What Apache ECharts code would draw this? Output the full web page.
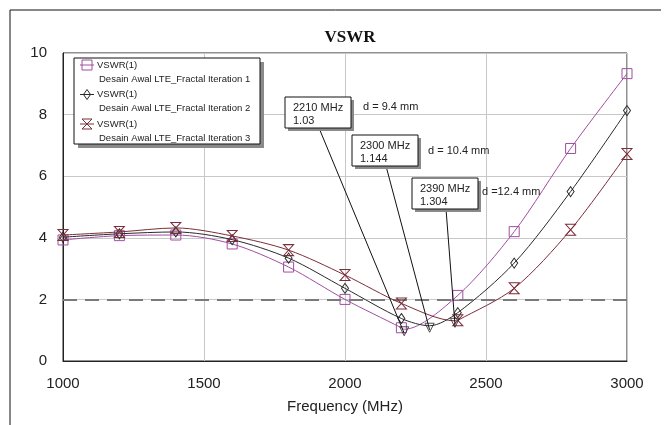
<!DOCTYPE html>
<html>
<head>
<meta charset="utf-8">
<script src="https://cdn.jsdelivr.net/npm/echarts@6/dist/echarts.min.js"></script>
<style>
html, body { margin: 0; padding: 0; background: #fff; }
#vswr { width: 670px; height: 425px; }
</style>
</head>
<body>
<div id="vswr"></div>
<script>
// frequency sweep points that carry a marker symbol (MHz)
var freqs = [1000, 1200, 1400, 1600, 1800, 2000, 2200, 2400, 2600, 2800, 3000];
// VSWR, one array per iteration
var iter1 = [3.93, 4.07, 4.09, 3.80, 3.05, 2.00, 1.08, 2.13, 4.20, 6.90, 9.33];
var iter2 = [4.02, 4.13, 4.19, 3.94, 3.34, 2.36, 1.38, 1.57, 3.18, 5.50, 8.13];
var iter3 = [4.09, 4.19, 4.32, 4.06, 3.60, 2.79, 1.87, 1.32, 2.36, 4.26, 6.72];
// resonance markers
var markFreqs = [2210, 2300, 2390];
var markVals = [1.03, 1.144, 1.304];
var markDist = ['d = 9.4 mm', 'd = 10.4 mm', 'd =12.4 mm'];
var seriesNames = ['Desain Awal LTE_Fractal Iteration 1', 'Desain Awal LTE_Fractal Iteration 2', 'Desain Awal LTE_Fractal Iteration 3'];
var vswrLimit = 2;

var colors = ['#a04ea0', '#2a2a2a', '#7c2d3a'];
var FONT = 'Liberation Sans, Arial, sans-serif';

function build(vals, dipF, dipV){
    var out = [];
    var done = false;
    for (var i = 0; i < freqs.length; i++) {
        if (!done && dipF < freqs[i]) {
            out.push({value: [dipF, dipV], symbol: 'none'});
            done = true;
        }
        out.push([freqs[i], vals[i]]);
    }
    return out;
}

function lineSeries(idx, vals, symbol, size){
    return {
        type: 'line',
        name: seriesNames[idx],
        data: build(vals, markFreqs[idx], markVals[idx]),
        smooth: 0.3,
        symbol: symbol,
        symbolSize: size,
        showSymbol: true,
        lineStyle: {color: colors[idx], width: 1},
        itemStyle: {color: 'rgba(0,0,0,0)', borderColor: colors[idx], borderWidth: 1},
        z: 3 + idx
    };
}

// annotation box placement (pixels)
var boxPos = [[285, 97], [352, 135], [412, 178]];
var boxW = 66, boxH = 31;
var distPos = [[363, 107], [428, 151], [482, 192]];

var chart = echarts.init(document.getElementById('vswr'));

var s1 = lineSeries(0, iter1, 'rect', 10);
s1.markLine = {
    silent: true,
    symbol: 'none',
    label: {show: false},
    lineStyle: {color: '#7a7a7a', width: 2, type: [14, 8]},
    data: [{yAxis: vswrLimit}]
};

var option = {
    backgroundColor: '#fff',
    animation: false,
    title: {
        text: 'VSWR',
        left: 345,
        textAlign: 'center',
        top: 24,
        textStyle: {fontFamily: 'Liberation Serif, Times New Roman, serif', fontWeight: 'bold', fontSize: 17, color: '#111'}
    },
    grid: {
        left: 63, right: 43, top: 53, bottom: 64,
        show: true, borderColor: '#222', borderWidth: 1, backgroundColor: '#fff'
    },
    xAxis: {
        type: 'value',
        min: 1000, max: 3000, interval: 500,
        name: 'Frequency (MHz)',
        nameLocation: 'middle',
        nameGap: 38,
        nameTextStyle: {fontFamily: FONT, fontSize: 15, color: '#222'},
        axisLine: {show: true, lineStyle: {color: '#222'}},
        axisTick: {show: false},
        axisLabel: {fontFamily: FONT, fontSize: 15, color: '#222', margin: 15, showMinLabel: true, showMaxLabel: true,
            formatter: function(v){ return String(v); }},
        splitLine: {show: true, lineStyle: {color: '#c8c8c8', width: 1}}
    },
    yAxis: {
        type: 'value',
        min: 0, max: 10, interval: 2,
        axisLine: {show: true, lineStyle: {color: '#222'}},
        axisTick: {show: false},
        axisLabel: {fontFamily: FONT, fontSize: 15, color: '#222', margin: 16},
        splitLine: {show: true, lineStyle: {color: '#c8c8c8', width: 1}}
    },
    series: [
        s1,
        lineSeries(1, iter2, 'diamond', [7, 10]),
        lineSeries(2, iter3, 'path://M0,0L10,0L0,10L10,10Z', [10, 11]),
        {
            type: 'scatter',
            data: markFreqs.map(function(f, i){ return [f, markVals[i]]; }),
            symbol: 'triangle',
            symbolRotate: 180,
            symbolSize: [9, 9],
            symbolOffset: [0, 2],
            itemStyle: {color: 'rgba(0,0,0,0)', borderColor: '#222', borderWidth: 1},
            z: 10
        }
    ]
};
chart.setOption(option);

// legend, frame and marker call-outs
var legendIcons = [
    function(cx, cy){ return {type: 'rect', shape: {x: cx - 5, y: cy - 5, width: 10, height: 10}, style: {fill: 'none', stroke: colors[0], lineWidth: 1}}; },
    function(cx, cy){ return {type: 'polygon', shape: {points: [[cx, cy - 5], [cx + 3.5, cy], [cx, cy + 5], [cx - 3.5, cy]]}, style: {fill: 'none', stroke: colors[1], lineWidth: 1}}; },
    function(cx, cy){ return {type: 'polygon', shape: {points: [[cx - 5, cy - 5], [cx + 5, cy - 5], [cx - 5, cy + 5], [cx + 5, cy + 5]]}, style: {fill: 'none', stroke: colors[2], lineWidth: 1}}; }
];
var legendItems = [];
legendItems.push({type: 'rect', shape: {x: 78, y: 62, width: 186, height: 86}, style: {fill: '#8a8a8a'}});
legendItems.push({type: 'rect', shape: {x: 74, y: 58, width: 186, height: 86}, style: {fill: '#fff', stroke: '#111', lineWidth: 1}});
for (var k = 0; k < 3; k++) {
    var cy = 65 + k * 29.5;
    legendItems.push({type: 'line', shape: {x1: 80, y1: cy, x2: 94, y2: cy}, style: {stroke: colors[k], lineWidth: 1}});
    legendItems.push(legendIcons[k](87, cy));
    legendItems.push({type: 'text', x: 97, y: cy, style: {text: 'VSWR(1)', font: '9.5px ' + FONT, fill: '#222', verticalAlign: 'middle'}});
    legendItems.push({type: 'text', x: 99, y: cy + 14, style: {text: seriesNames[k], font: '9.5px ' + FONT, fill: '#222', verticalAlign: 'middle'}});
}

var graphics = [
    {type: 'polyline', shape: {points: [[10, 425], [10, 10], [661, 10]]}, style: {stroke: '#111', lineWidth: 1, fill: 'none'}, z: 1},
    {type: 'group', children: legendItems, z: 20}
];
for (var m = 0; m < markFreqs.length; m++) {
    var pt = chart.convertToPixel({gridIndex: 0}, [markFreqs[m], markVals[m]]);
    var bx = boxPos[m][0], by = boxPos[m][1];
    graphics.push({type: 'line', shape: {x1: bx + 34, y1: by + boxH, x2: pt[0], y2: pt[1] + 4}, style: {stroke: '#111', lineWidth: 1}, z: 15});
    graphics.push({type: 'rect', shape: {x: bx + 3, y: by + 3, width: boxW, height: boxH}, style: {fill: '#8a8a8a'}, z: 16});
    graphics.push({type: 'rect', shape: {x: bx, y: by, width: boxW, height: boxH}, style: {fill: '#fff', stroke: '#111', lineWidth: 1}, z: 17});
    graphics.push({type: 'text', x: bx + 8, y: by + 4, style: {text: markFreqs[m] + ' MHz\n' + markVals[m], font: '11px ' + FONT, lineHeight: 13, fill: '#222'}, z: 18});
    graphics.push({type: 'text', x: distPos[m][0], y: distPos[m][1],
        style: {text: markDist[m], font: '11px ' + FONT, fill: '#222', verticalAlign: 'middle'}, z: 18});
}
chart.setOption({graphic: graphics});
</script>
</body>
</html>
